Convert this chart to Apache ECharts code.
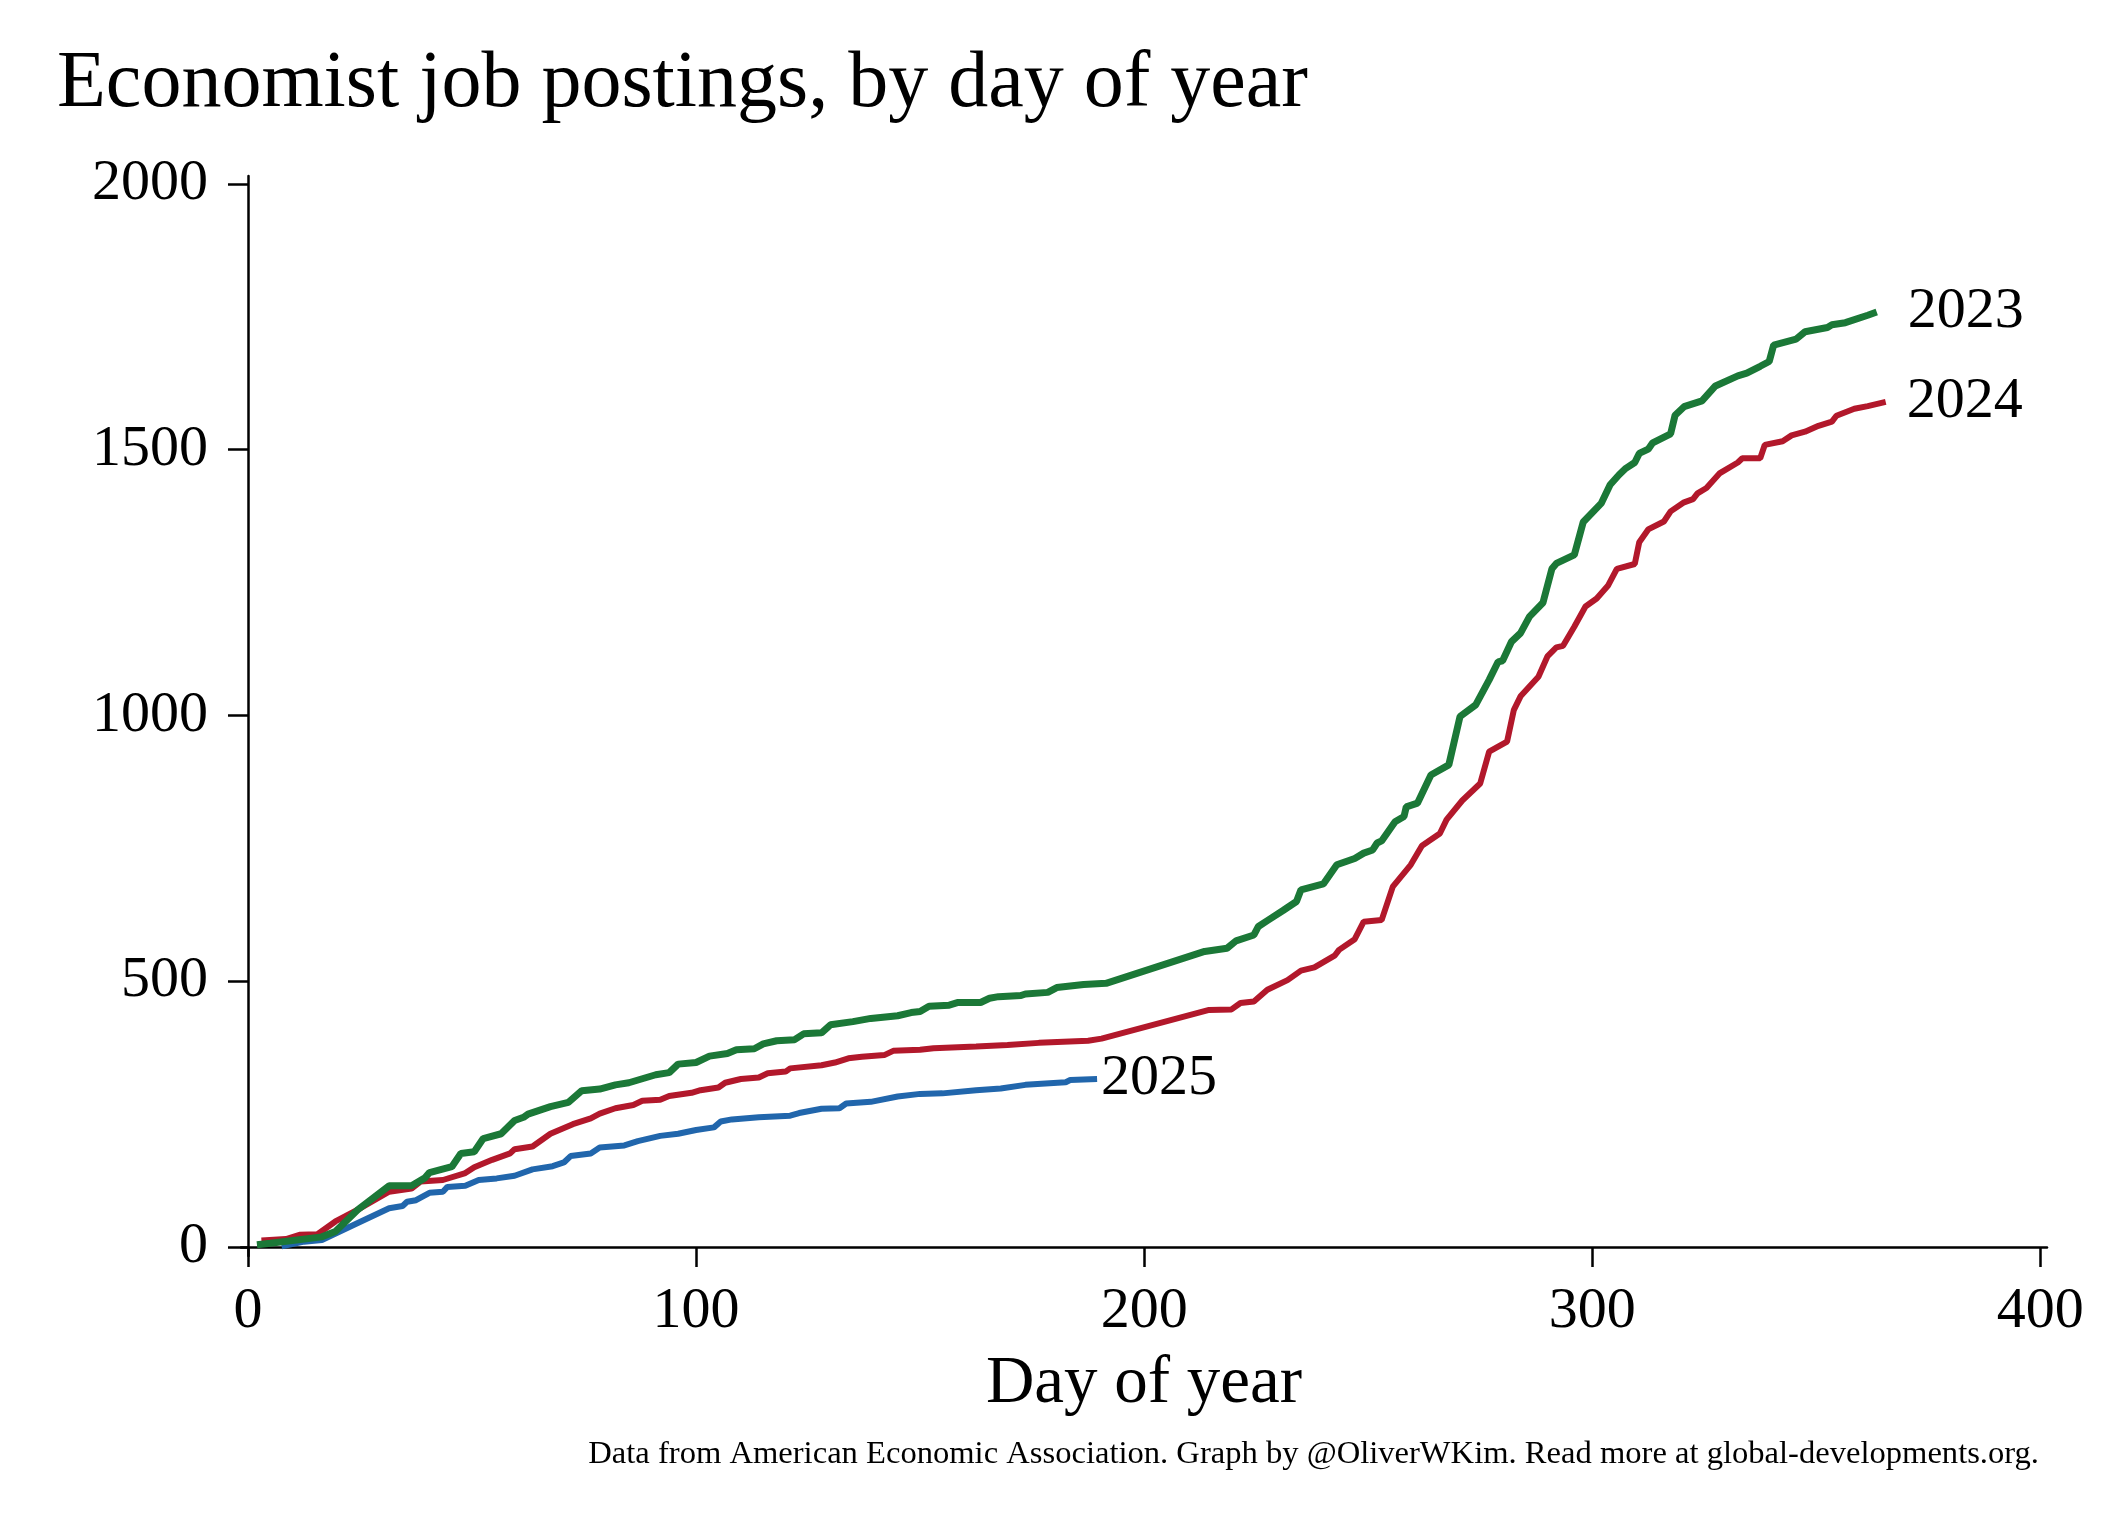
<!DOCTYPE html>
<html>
<head>
<meta charset="utf-8">
<script src="https://cdn.jsdelivr.net/npm/echarts@6/dist/echarts.min.js"></script>
<style>
html,body{margin:0;padding:0;background:#fff;}
#chart{width:2104px;height:1530px;}
</style>
</head>
<body>
<div id="chart"></div>
<script>
// Data: [day of year, cumulative postings]
const series2023 = [[2,4],[5,7],[16.5,19],[19.5,29],[24.5,70],[31.5,115],[36.5,115],[39.5,130],[40.5,140],[45.5,151],[47.5,176],[50.5,179],[52.5,204],[56.5,213],[59.5,238],[61.5,244],[62.5,250],[67.5,264],[71.5,272],[74.5,294],[78.5,297],[82,305],[85,309],[91,324],[94,328],[96,344],[100,347],[103,359],[107,364],[109,371],[113,373],[115,382],[118,388],[122,390],[124,401],[128,403],[130,418],[135,424],[139,430],[145,435],[148,441],[150,443],[152,453],[156.5,455],[158.5,460],[163.5,460],[165.5,468],[167.5,471],[172.5,473],[173.5,476],[178.5,479],[180.5,488],[186.5,494],[191.5,496],[213.5,556],[218.5,562],[220.5,576],[224.5,587],[225.5,603],[227.5,614],[231,633],[234,650],[235,672],[240,683],[243,719],[247,731],[249,741],[251,747],[252,760],[253,764],[256,800],[258,810],[258.5,828],[261,835],[264,888],[268,907],[270.5,998],[274,1020],[277,1067],[279,1101],[280,1103],[282,1139],[284,1155],[286,1186],[289,1212],[291,1276],[292,1286],[296,1302],[298,1364],[302,1399],[304,1434],[306,1453],[307.5,1465],[309.5,1476],[310.5,1493],[312.5,1501],[313.5,1513],[317.5,1530],[318.5,1565],[320.5,1581],[324.5,1592],[327.5,1620],[332.5,1639],[334.5,1644],[337.5,1657],[339.5,1666],[340.5,1697],[345.5,1708],[347.5,1722],[352.5,1730],[353.5,1735],[356.5,1739],[361.5,1753],[363.5,1759]];

const series2024 = [[3,12],[8.5,15],[11.5,23],[15.5,24],[19.5,48],[24.5,70],[31.5,104],[36.5,110],[38.5,123],[43.5,126],[48.5,139],[50.5,150],[54.5,164],[58.5,176],[59.5,184],[63.5,189],[67.5,213],[72.5,231],[76.5,242],[78.5,251],[82,261],[86,267],[88,275],[92,277],[94,284],[99,290],[101,295],[105,300],[106.5,309],[110,316],[114,319],[116,327],[120,330],[121,336],[128,342],[131,347],[134,355],[137,358],[142,361],[144,369],[150,371],[153,374],[162.5,377],[169.5,380],[176.5,384],[187.5,388],[190.5,392],[214.5,446],[219.5,447],[221.5,459],[224.5,462],[227.5,484],[232,502],[235,520],[238,526],[242.5,548],[243.5,559],[247,579],[249,612],[253,615],[255.5,678],[259.5,719],[262,755],[266,778],[267.5,804],[271,840],[275,872],[277,932],[281,951],[282.5,1010],[284,1036],[288,1073],[290,1111],[292,1128],[293.5,1131],[296,1167],[298.5,1205],[301,1220],[303.5,1244],[305.5,1276],[309.5,1285],[310.5,1326],[312.5,1350],[316,1365],[317.5,1384],[320.5,1401],[322.5,1407],[323.5,1418],[325.5,1428],[328.5,1456],[332.5,1476],[333.5,1484],[337.5,1484],[338.5,1509],[342.5,1516],[344.5,1527],[347.5,1534],[350.5,1545],[353.5,1553],[354.5,1564],[358.5,1577],[361.5,1582],[365.5,1590]];

const series2025 = [[7.5,1],[12.5,10],[16.5,13],[18.5,21],[24.5,45],[31.5,73],[34.5,77],[35.5,85],[37.5,88],[40.5,102],[43.5,104],[44.5,113],[48.5,115],[51.5,126],[55.5,129],[59.5,134],[63.5,146],[68,152],[70.5,159],[72,171],[76.5,176],[78.5,187],[84,191],[87,199],[92,209],[96,213],[100,220],[104,225],[105.5,236],[108,240],[114,244],[121,247],[123,252],[128,260],[132,261],[133.5,270],[139,273],[145,283],[150,288],[155,289],[162.5,295],[168,298],[173.5,305],[182.5,310],[183.5,314],[189.5,316]];

const xTicks = [0, 100, 200, 300, 400];
const yTicks = [0, 500, 1000, 1500, 2000];
const seriesNames = ['2025', '2024', '2023'];

const titleText = 'Economist job postings, by day of year';
const xAxisTitle = 'Day of year';
const footerText = 'Data from American Economic Association. Graph by @OliverWKim. Read more at global-developments.org.';

const FONT = '"Liberation Serif", "DejaVu Serif", serif';
const chart = echarts.init(document.getElementById('chart'), null, {renderer: 'canvas'});

function lineSeries(name, data, color, width, dist, z) {
  return {
    name: name,
    type: 'line',
    data: data,
    showSymbol: false,
    symbol: 'none',
    z: z,
    lineStyle: {color: color, width: width},
    itemStyle: {color: color},
    endLabel: {
      show: true,
      formatter: name,
      color: '#000',
      fontFamily: FONT,
      fontSize: 58,
      distance: dist
    }
  };
}

chart.setOption({
  animation: false,
  backgroundColor: '#fff',
  title: {
    text: titleText,
    left: 52,
    top: 40,
    textStyle: {fontFamily: FONT, fontSize: 80, fontWeight: 'normal', color: '#000'}
  },
  grid: {left: 241, right: 57, top: 176, bottom: 274, containLabel: false},
  xAxis: {
    type: 'value',
    min: -1.56,
    max: 401.5,
    axisLine: {show: true, lineStyle: {color: '#000', width: 2.5}},
    axisTick: {show: true, length: 20, lineStyle: {color: '#000', width: 2.5}, customValues: xTicks},
    axisLabel: {customValues: xTicks, fontFamily: FONT, fontSize: 58, color: '#000', margin: 27,
                formatter: function (v) { return String(v); }},
    splitLine: {show: false},
    name: xAxisTitle,
    nameLocation: 'middle',
    nameGap: 95,
    nameTextStyle: {fontFamily: FONT, fontSize: 67, color: '#000'}
  },
  yAxis: {
    type: 'value',
    min: -17,
    max: 2015,
    axisLine: {show: true, lineStyle: {color: '#000', width: 2.5}},
    axisTick: {show: true, length: 20, lineStyle: {color: '#000', width: 2.5}, customValues: yTicks},
    axisLabel: {customValues: yTicks, fontFamily: FONT, fontSize: 58, color: '#000', margin: 33,
                formatter: function (v) { return String(v); }},
    splitLine: {show: false}
  },
  graphic: [{
    type: 'text',
    right: 65,
    top: 1438,
    style: {text: footerText, fontFamily: FONT, fontSize: 32.6, fill: '#000'}
  }],
  series: [
    lineSeries(seriesNames[0], series2025, '#2166ac', 6, 4, 2),
    lineSeries(seriesNames[1], series2024, '#b2182b', 6, 21, 3),
    lineSeries(seriesNames[2], series2023, '#1b7837', 7, 31, 4)
  ]
});
</script>
</body>
</html>
